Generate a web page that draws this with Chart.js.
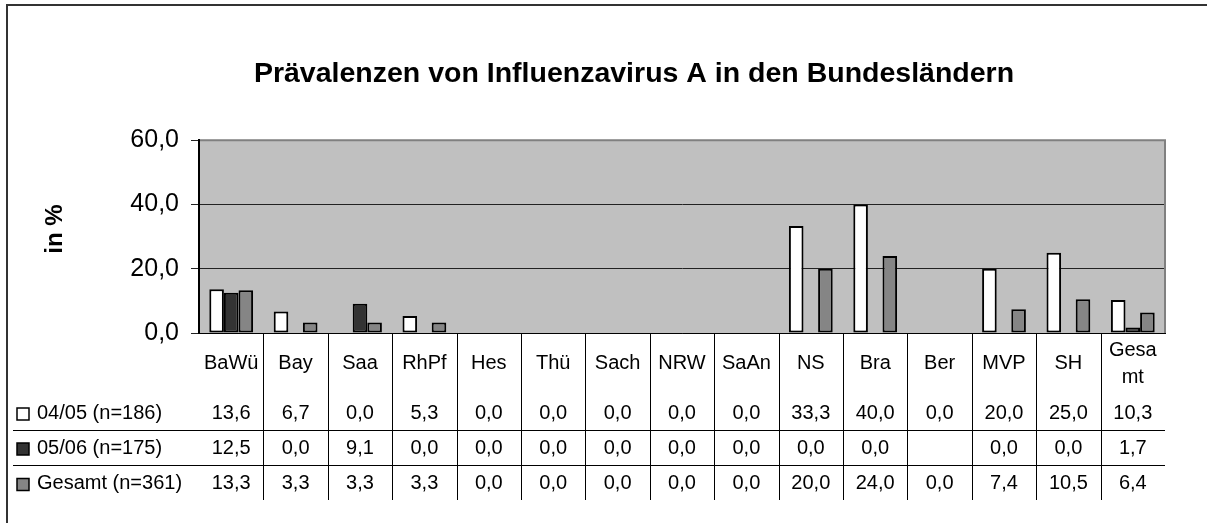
<!DOCTYPE html>
<html>
<head>
<meta charset="utf-8">
<script src="https://cdn.jsdelivr.net/npm/chart.js@4"></script>
<style>
  html, body { margin: 0; padding: 0; background: #fff; }
  canvas { display: block; }
</style>
</head>
<body>
<canvas id="c" width="1207" height="523"></canvas>
<script>
const titleText = 'Prävalenzen von Influenzavirus A in den Bundesländern';
const yAxisTitle = 'in %';
const categories = ['BaWü', 'Bay', 'Saa', 'RhPf', 'Hes', 'Thü', 'Sach', 'NRW', 'SaAn', 'NS', 'Bra', 'Ber', 'MVP', 'SH', ['Gesa', 'mt']];
const seriesNames = ['04/05 (n=186)', '05/06 (n=175)', 'Gesamt (n=361)'];
const season0405 = [13.6, 6.7, 0.0, 5.3, 0.0, 0.0, 0.0, 0.0, 0.0, 33.3, 40.0, 0.0, 20.0, 25.0, 10.3];
const season0506 = [12.5, 0.0, 9.1, 0.0, 0.0, 0.0, 0.0, 0.0, 0.0, 0.0, 0.0, null, 0.0, 0.0, 1.7];
const gesamt     = [13.3, 3.3, 3.3, 3.3, 0.0, 0.0, 0.0, 0.0, 0.0, 20.0, 24.0, 0.0, 7.4, 10.5, 6.4];
const yTicks = [0, 20, 40, 60];

const seriesColors = ['#FFFFFF', '#333333', '#858585'];
const FONT = '"Liberation Sans", Arial, sans-serif';
const fmt = v => (v === null || v === undefined) ? '' : v.toFixed(1).replace('.', ',');

const tablePlugin = {
  id: 'tablePlugin',
  beforeDraw(chart) {
    const { ctx, chartArea: a } = chart;
    ctx.save();
    ctx.fillStyle = '#FFFFFF';
    ctx.fillRect(0, 0, chart.width, chart.height);
    ctx.fillStyle = '#C0C0C0';
    ctx.fillRect(a.left, a.top, a.right - a.left, a.bottom - a.top);
    ctx.strokeStyle = '#333333';
    ctx.lineWidth = 2;
    ctx.beginPath();
    ctx.moveTo(7, chart.height);
    ctx.lineTo(7, 5);
    ctx.lineTo(chart.width, 5);
    ctx.stroke();
    ctx.restore();
  },
  beforeDatasetsDraw(chart) {
    const { ctx, chartArea: a } = chart;
    ctx.save();
    ctx.strokeStyle = '#808080';
    ctx.lineWidth = 2;
    ctx.beginPath();
    ctx.moveTo(a.left + 1, a.top);
    ctx.lineTo(a.right, a.top);
    ctx.lineTo(a.right, a.bottom);
    ctx.stroke();
    ctx.restore();
  },
  afterDraw(chart) {
    const { ctx, chartArea: a } = chart;
    const xs = chart.scales.x;
    const n = categories.length;
    const rowY = [413, 448, 483.5];
    const tableBottom = 500;
    ctx.save();
    ctx.save();
    ctx.translate(55, 229);
    ctx.rotate(-Math.PI / 2);
    ctx.font = 'bold 24px ' + FONT;
    ctx.fillStyle = '#000';
    ctx.textAlign = 'center';
    ctx.textBaseline = 'middle';
    ctx.fillText(yAxisTitle, 0, 0);
    ctx.restore();

    ctx.strokeStyle = '#000';
    ctx.lineWidth = 1;
    ctx.beginPath();
    for (let i = 0; i < n - 1; i++) {
      const x = Math.round((xs.getPixelForValue(i) + xs.getPixelForValue(i + 1)) / 2) + 0.5;
      ctx.moveTo(x, a.bottom);
      ctx.lineTo(x, tableBottom);
    }
    [430.5, 465.5].forEach(y => {
      ctx.moveTo(13, y);
      ctx.lineTo(a.right, y);
    });
    ctx.stroke();

    ctx.fillStyle = '#000';
    ctx.font = '20px ' + FONT;
    ctx.textAlign = 'center';
    ctx.textBaseline = 'middle';
    categories.forEach((c, i) => {
      const x = xs.getPixelForValue(i);
      if (Array.isArray(c)) {
        ctx.fillText(c[0], x, 350);
        ctx.fillText(c[1], x, 377);
      } else {
        ctx.fillText(c, x, 363);
      }
    });

    const rows = [season0405, season0506, gesamt];
    rows.forEach((vals, r) => {
      const y = rowY[r];
      ctx.fillStyle = seriesColors[r];
      ctx.fillRect(17, y - 5, 12, 12);
      ctx.strokeStyle = '#000';
      ctx.lineWidth = 1.5;
      ctx.strokeRect(17, y - 5, 12, 12);
      ctx.fillStyle = '#000';
      ctx.textAlign = 'left';
      ctx.fillText(seriesNames[r], 37, y);
      ctx.textAlign = 'center';
      vals.forEach((v, i) => {
        ctx.fillText(fmt(v), xs.getPixelForValue(i), y);
      });
    });
    ctx.restore();
  }
};

const datasets = [season0405, season0506, gesamt].map((d, i) => ({
  label: seriesNames[i],
  data: d,
  backgroundColor: seriesColors[i],
  borderColor: '#000000',
  borderWidth: 2,
  borderSkipped: false,
  categoryPercentage: 0.68,
  barPercentage: 1.0
}));

new Chart(document.getElementById('c'), {
  type: 'bar',
  data: { labels: categories, datasets },
  options: {
    responsive: false,
    animation: false,
    devicePixelRatio: 1,
    layout: { padding: { left: 103, right: 42, top: 0, bottom: 190 } },
    plugins: {
      legend: { display: false },
      tooltip: { enabled: false },
      title: {
        display: true,
        text: titleText,
        color: '#000',
        font: { family: FONT, size: 28.5, weight: 'bold', lineHeight: 1.2 },
        padding: { top: 57, bottom: 49 }
      }
    },
    scales: {
      x: {
        grid: { display: false, drawTicks: false },
        ticks: { display: false },
        border: { display: true, color: '#000', width: 1 },
        afterFit(s) { s.height = 0; }
      },
      y: {
        min: 0, max: 60,
        afterBuildTicks(s) { s.ticks = yTicks.map(v => ({ value: v })); },
        ticks: {
          color: '#000',
          font: { family: FONT, size: 25 },
          padding: 12,
          callback: v => fmt(v)
        },
        grid: { color: '#222222', lineWidth: 1, tickLength: 8, drawTicks: true },
        border: { display: true, color: '#000', width: 2 },
        afterFit(s) { s.width = 96; }
      }
    }
  },
  plugins: [tablePlugin]
});
</script>
</body>
</html>
